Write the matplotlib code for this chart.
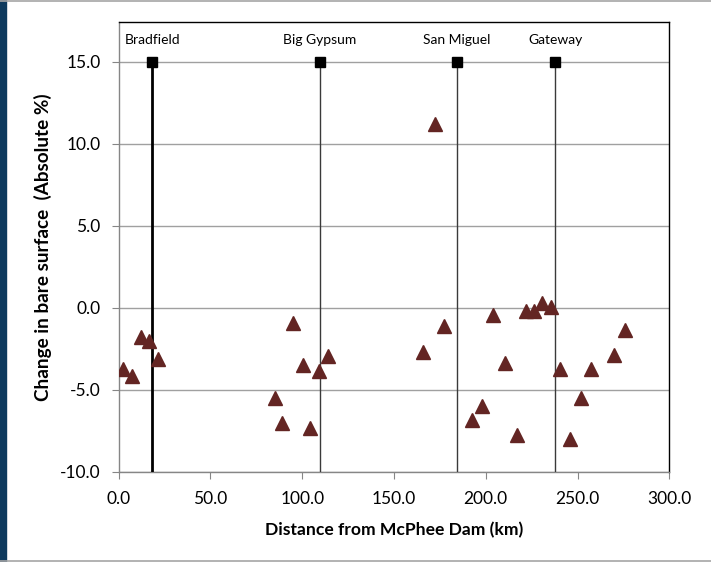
import matplotlib
matplotlib.use("Agg")
import matplotlib.pyplot as plt
from matplotlib.patches import Rectangle
from matplotlib.lines import Line2D

plt.rcParams["font.family"] = ["Lato", "DejaVu Sans"]
plt.rcParams["axes.unicode_minus"] = False

# survey points: distance downstream (km) vs change in bare surface (%)
dist_km = [2.3, 7.4, 12.0, 16.7, 21.4,
           85.0, 89.0, 95.2, 100.3, 104.4, 109.0, 113.9,
           166.0, 172.4, 177.5, 192.7, 197.8, 204.0, 210.2, 216.9,
           222.0, 226.5, 230.9, 235.6, 240.5, 246.1, 251.9, 257.4,
           270.1, 275.8]
bare_change = [-3.72, -4.17, -1.79, -2.05, -3.15,
               -5.49, -7.01, -0.91, -3.48, -7.32, -3.88, -2.97,
               -2.71, 11.17, -1.14, -6.85, -6.0, -0.43, -3.35, -7.77,
               -0.2, -0.2, 0.28, 0.04, -3.72, -8.01, -5.53, -3.72,
               -2.91, -1.37]

# gauging stations along the river
stations = ["Bradfield", "Big Gypsum", "San Miguel", "Gateway"]
station_km = [18.3, 109.7, 184.2, 237.8]
station_top = 15.0
axis_bottom = -10.0

fig = plt.figure(figsize=(7.11, 5.62), dpi=100)
ax = fig.add_axes([0.1669, 0.1607, 0.7745, 0.8002])

# thin outer frame + dark strip on the left like the slide screenshot
fig.add_artist(Rectangle((0, 0), 0.0085, 1, transform=fig.transFigure,
                         color="#0E3A5E", zorder=0))
fig.add_artist(Line2D([0, 1], [0.9985, 0.9985], transform=fig.transFigure,
                      color="#A6A6A6", lw=1.2))
fig.add_artist(Line2D([0, 1], [0.0025, 0.0025], transform=fig.transFigure,
                      color="#A6A6A6", lw=1.2))

for i, (name, km) in enumerate(zip(stations, station_km)):
    lw = 2.0 if i == 0 else 1.0
    col = "black" if i == 0 else "#3A3A3A"
    ax.plot([km, km], [axis_bottom, station_top], color=col, lw=lw, zorder=3)
    ax.plot(km, station_top, marker="s", ms=6.5, color="black", zorder=4)
    ax.annotate(name, (km, station_top), xytext=(0, 11), textcoords="offset points",
                ha="center", va="bottom", fontsize=10)

ax.plot(dist_km, bare_change, linestyle="none", marker="^", ms=10.5,
        color="#632523", mec="#632523", zorder=5)

ax.set_xlim(0, 300)
ax.set_ylim(axis_bottom, 17.42)
ax.set_xticks(range(0, 301, 50))
ax.set_yticks(range(-10, 16, 5))
ax.set_xticklabels([f"{v:.1f}" for v in range(0, 301, 50)])
ax.set_yticklabels([f"{v:.1f}" for v in range(-10, 16, 5)])
ax.tick_params(axis="both", labelsize=12.5, direction="out", length=5,
               color="#868686")
ax.tick_params(axis="y", pad=8)
ax.tick_params(axis="x", pad=9)
ax.yaxis.grid(True, color="#A0A0A0", lw=1.0)
ax.set_axisbelow(True)

for s in ["left", "bottom"]:
    ax.spines[s].set_color("#868686")
for s in ["top", "right"]:
    ax.spines[s].set_color("black")
for s in ax.spines.values():
    s.set_linewidth(1.0)

ax.set_xlabel("Distance from McPhee Dam (km)", fontsize=12.6, fontweight="bold",
              labelpad=11)
ax.set_ylabel("Change in bare surface  (Absolute %)", fontsize=13.6,
              fontweight="bold")
ax.yaxis.set_label_coords(-0.121, 0.5)

fig.savefig("out.png", dpi=100)
